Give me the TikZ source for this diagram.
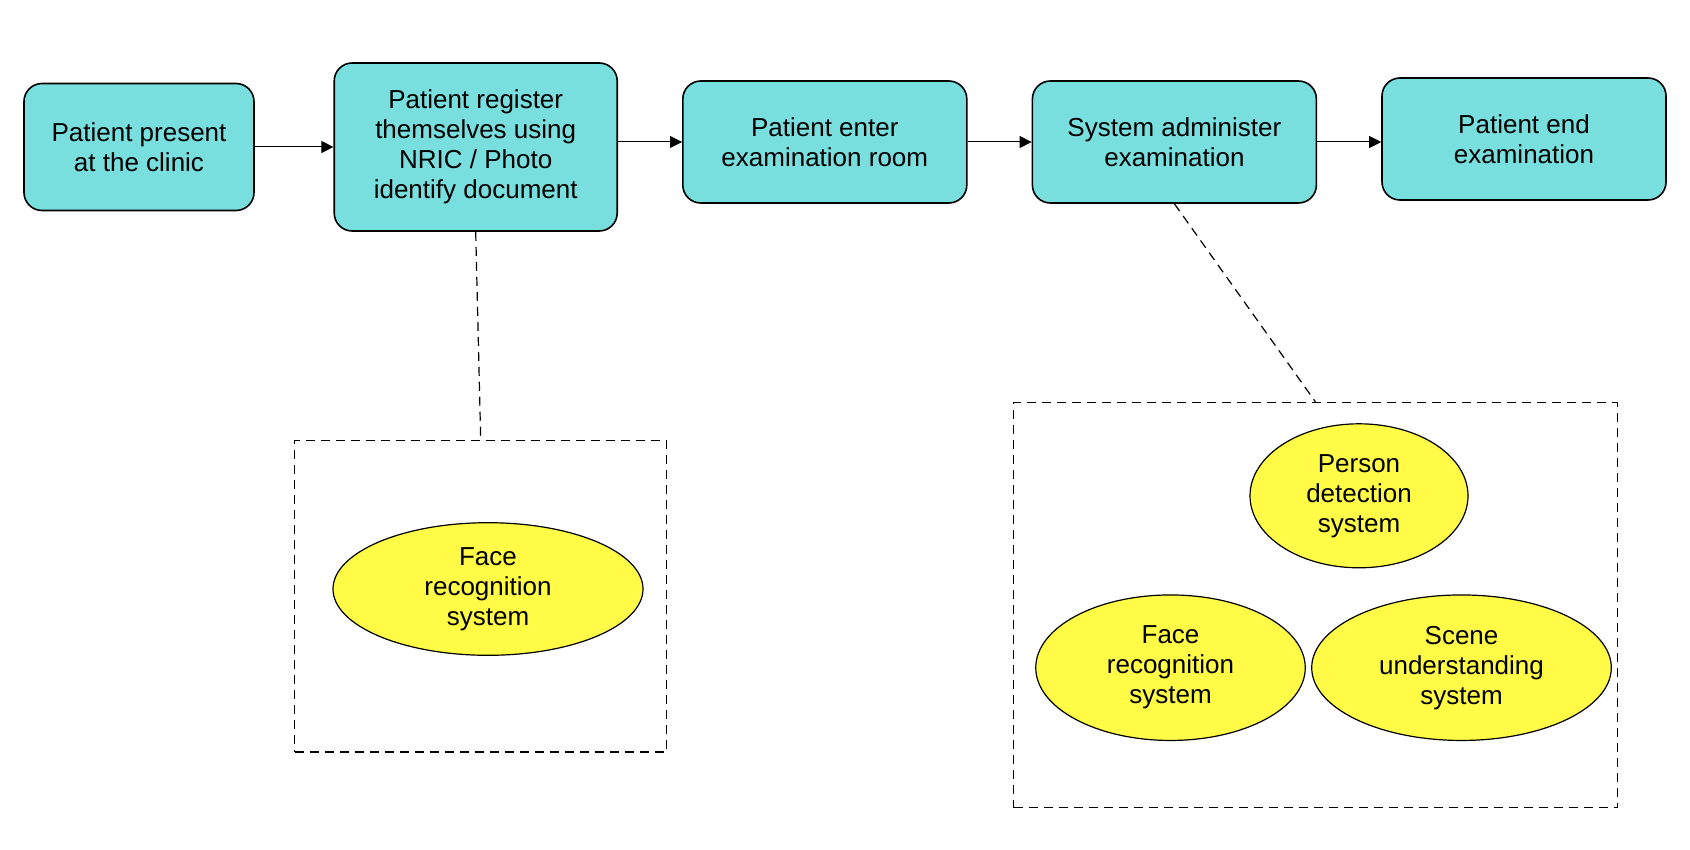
\documentclass[tikz,border=0pt]{standalone}
\usepackage{fontspec}
\setmainfont{Liberation Sans}
\usetikzlibrary{arrows.meta, positioning, shapes.geometric}
\definecolor{stepcyan}{HTML}{79DEDE}
\definecolor{sysyellow}{HTML}{FFFB47}

\begin{document}
\begin{tikzpicture}[
    node distance=32pt,
    font=\fontsize{13}{15}\selectfont,
    block/.style={rectangle, draw, line width=0.8pt, rounded corners=9pt, fill=stepcyan, minimum width=142pt, minimum height=61pt, align=center},
    system/.style={ellipse, draw, line width=0.6pt, fill=sysyellow, align=center, inner sep=0pt},
    group/.style={rectangle, draw, dash pattern=on 4.5pt off 3pt, line width=0.6pt},
    arrow/.style={-{Triangle[length=6pt, width=6pt]}, line width=0.5pt},
    link/.style={dash pattern=on 4.5pt off 3pt, line width=0.6pt},
]
\useasboundingbox (0,0) rectangle (845pt,-425pt);

\node[block, minimum width=115pt, minimum height=63.5pt] (present) at (69.5pt,-73.5pt) {Patient present\\at the clinic};
\node[block, right=39.3pt of present, minimum width=141.5pt, minimum height=84pt] (register) {Patient register\\themselves using\\NRIC / Photo\\identify document};
\node[block, right=of register, yshift=2.5pt] (enter)  {Patient enter\\examination room};
\node[block, right=of enter]                  (admin)  {System administer\\examination};
\node[block, right=of admin, yshift=1.5pt]    (finish) {Patient end\\examination};

\draw[arrow] (present) -- (register);
\draw[arrow] (register.east |- enter.west) -- (enter.west);
\draw[arrow] (enter)    -- (admin);
\draw[arrow] (admin.east) -- (finish.west |- admin.east);

% AI systems used at each step
\node[group, below=104pt of register, xshift=2.5pt, minimum width=186pt, minimum height=155.8pt] (regsys) {};
\node[system, minimum width=155pt, minimum height=66.3pt] (regface) at (244pt,-294.5pt) {Face\\recognition\\system};

\node[group, below=99pt of admin, xshift=70.5pt, minimum width=301.9pt, minimum height=202.65pt] (examsys) {};
\node[system, minimum width=109pt, minimum height=72pt] (person) at (679.5pt,-247.9pt) {Person\\detection\\system};
\node[system, minimum width=134.75pt, minimum height=72.75pt] (examface) at (585.25pt,-333.85pt) {Face\\recognition\\system};
\node[system, minimum width=149.8pt, minimum height=72.75pt] (scene) at (730.75pt,-333.85pt) {Scene\\understanding\\system};

\draw[link] (register.south) -- (regsys.north);
\draw[link] (admin.south) -- (examsys.north);

\end{tikzpicture}
\end{document}
